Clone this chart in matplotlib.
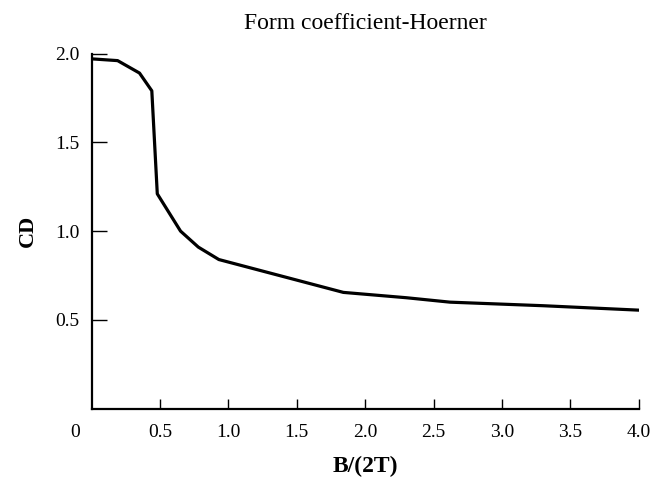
import matplotlib
matplotlib.use('Agg')
import matplotlib.pyplot as plt

# values
b_2t = [0.0, 0.19, 0.35, 0.44, 0.48, 0.65, 0.78, 0.93, 1.84, 2.30, 2.62, 3.30, 4.0]
cd = [1.97, 1.96, 1.89, 1.79, 1.21, 1.00, 0.91, 0.84, 0.655, 0.625, 0.60, 0.58, 0.555]

xticks = [0.5, 1.0, 1.5, 2.0, 2.5, 3.0, 3.5, 4.0]
yticks = [0.5, 1.0, 1.5, 2.0]

plt.rcParams['font.family'] = ['Liberation Serif', 'DejaVu Serif']

fig = plt.figure(figsize=(6.62, 4.8), dpi=100)
ax = fig.add_axes([0.1384, 0.1485, 0.8266, 0.74])

ax.plot(b_2t, cd, color='black', lw=2.3)

ax.set_xlim(0, 4.0)
ax.set_ylim(0, 2.0)
ax.spines['top'].set_visible(False)
ax.spines['right'].set_visible(False)
for s in ['left', 'bottom']:
    ax.spines[s].set_linewidth(1.6)

ax.set_xticks(xticks)
ax.set_xticklabels([f'{v:.1f}' for v in xticks])
ax.set_yticks(yticks)
ax.set_yticklabels([f'{v:.1f}' for v in yticks])
ax.tick_params(axis='x', direction='in', length=7, width=1, labelsize=14, pad=11)
ax.tick_params(axis='y', direction='in', length=11, width=1, labelsize=14, pad=9)

# origin label sits left of the axis corner
ax.text(-0.12, -0.135, '0', ha='center', va='center', fontsize=14,
        transform=ax.transData)

ax.set_title('Form coefficient-Hoerner', fontsize=17, pad=18)
ax.set_xlabel('B/(2T)', fontsize=17, fontweight='bold', labelpad=11)
ax.set_ylabel('CD', fontsize=16, fontweight='bold', labelpad=12)

fig.savefig('out.png', dpi=100)
